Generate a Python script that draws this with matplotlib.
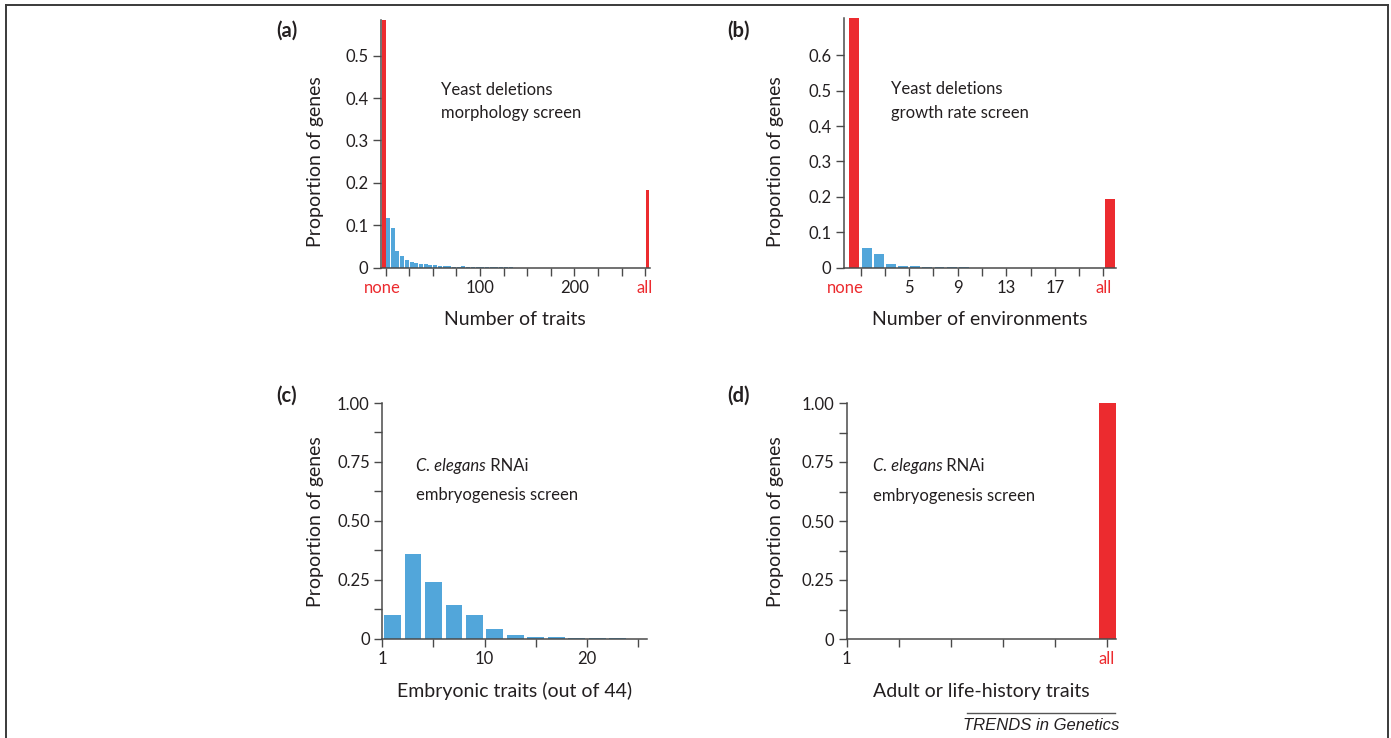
import matplotlib
matplotlib.use("Agg")
import matplotlib.pyplot as plt
from matplotlib.lines import Line2D

# ---------------- data ----------------
# (a) yeast deletions, morphology screen (bins of 5 traits)
a_none = 0.62
a_blue = [0.117, 0.094, 0.040, 0.028, 0.019, 0.013, 0.012, 0.0095, 0.0095,
          0.0063, 0.0063, 0.004, 0.004, 0.004, 0.0024, 0.0024, 0.0047, 0.0024,
          0.002, 0.002, 0.002, 0.0015, 0.0015, 0.0015, 0.0015, 0.0015, 0.001]
a_all = 0.183
a_ticks = [0, 25, 50, 75, 100, 125, 150, 175, 200, 225, 250, 275]
a_ticklabels = ["", "", "", "", "100", "", "", "", "200", "", "", "all"]

# (b) yeast deletions, growth rate screen (1..20 environments)
b_none = 0.75
b_blue = [0.0557, 0.039, 0.0104, 0.0047, 0.0047, 0.002, 0.002, 0.002, 0.002,
          0, 0, 0, 0, 0, 0, 0, 0, 0, 0, 0]
b_all = 0.194
b_ticks = [1, 3, 5, 7, 9, 11, 13, 15, 17, 19, 21]
b_ticklabels = ["", "", "5", "", "9", "", "13", "", "17", "", "all"]

# (c) C. elegans RNAi, embryonic traits (bins of 2)
c_vals = [0.099, 0.357, 0.239, 0.141, 0.099, 0.040, 0.014, 0.006, 0.006,
          0.002, 0.001, 0.001]
c_ticks = [0, 5, 10, 15, 20, 25]
c_ticklabels = ["1", "", "10", "", "20", ""]

# (d) adult / life-history traits
d_all = 1.0
d_ticks = [0, 1, 2, 3, 4, 5]
d_ticklabels = ["1", "", "", "", "", "all"]

yticks_a = [0, 0.1, 0.2, 0.3, 0.4, 0.5]
yticklabels_a = ["0", "0.1", "0.2", "0.3", "0.4", "0.5"]
yticks_b = [0, 0.1, 0.2, 0.3, 0.4, 0.5, 0.6]
yticklabels_b = ["0", "0.1", "0.2", "0.3", "0.4", "0.5", "0.6"]
yticks_cd = [0, 0.25, 0.5, 0.75, 1.0]
yticklabels_cd = ["0", "0.25", "0.50", "0.75", "1.00"]
yminor_cd = [0.125, 0.375, 0.625, 0.875]

# ---------------- style ----------------
BLUE = "#52a6da"
RED = "#ec2b2f"
TXT = "#231f20"
SPINE = "#4a4a4a"
plt.rcParams["font.family"] = ["Lato", "DejaVu Sans"]

W, H = 1391, 738
fig = plt.figure(figsize=(W / 100, H / 100), dpi=100)


def add_ax(left, top, right, bottom):
    return fig.add_axes([left / W, 1 - bottom / H, (right - left) / W, (bottom - top) / H])


def style(ax, ylab_x, ylab_y):
    for s in ["top", "right"]:
        ax.spines[s].set_visible(False)
    for s in ["left", "bottom"]:
        ax.spines[s].set_color(SPINE)
        ax.spines[s].set_linewidth(1.1)
    ax.tick_params(axis="both", which="both", direction="out", color=SPINE,
                   width=1.0, labelsize=12, labelcolor=TXT, length=5.5)
    fig.text(ylab_x / W, 1 - ylab_y / H, "Proportion of genes", fontsize=14,
             color=TXT, rotation=90, ha="center", va="center")


def none_label(ax, x):
    ax.set_xticks([x], minor=True)
    ax.set_xticklabels(["none"], minor=True)
    ax.tick_params(axis="x", which="minor", length=0, pad=3.5 + 5.5, labelcolor=RED)


# ----- (a) -----
axa = add_ax(380.7, 20, 650, 267.7)
style(axa, 316, 162)
xa = [5 * i + 2.4 for i in range(len(a_blue))]
axa.bar(xa, a_blue, width=4.2, color=BLUE, linewidth=0)
axa.bar([-2.3], [a_none], width=4.2, color=RED, linewidth=0)
axa.bar([277.8], [a_all], width=3.6, color=RED, linewidth=0)
axa.set_xlim(-5.3, 280.2)
axa.set_ylim(0, 0.584)
axa.set_yticks(yticks_a)
axa.set_yticklabels(yticklabels_a)
axa.set_xticks(a_ticks)
axa.set_xticklabels(a_ticklabels)
axa.get_xticklabels()[-1].set_color(RED)
none_label(axa, -3.3)
axa.set_xlabel("Number of traits", fontsize=14, color=TXT, labelpad=11)
axa.text(59, 0.392, "Yeast deletions\nmorphology screen", fontsize=12, color=TXT,
         va="center", ha="left", linespacing=1.6)

# ----- (b) -----
axb = add_ax(844, 18, 1115.5, 267.7)
style(axb, 776, 162)
xb = [k + 0.5 for k in range(1, len(b_blue) + 1)]
axb.bar(xb, b_blue, width=0.82, color=BLUE, linewidth=0)
axb.bar([0.45], [b_none], width=0.8, color=RED, linewidth=0)
axb.bar([21.55], [b_all], width=0.82, color=RED, linewidth=0)
axb.set_xlim(-0.37, 22.0)
axb.set_ylim(0, 0.705)
axb.set_yticks(yticks_b)
axb.set_yticklabels(yticklabels_b)
axb.set_xticks(b_ticks)
axb.set_xticklabels(b_ticklabels)
axb.get_xticklabels()[-1].set_color(RED)
none_label(axb, -0.25)
axb.set_xlabel("Number of environments", fontsize=14, color=TXT, labelpad=11)
axb.text(3.5, 0.471, "Yeast deletions\ngrowth rate screen", fontsize=12, color=TXT,
         va="center", ha="left", linespacing=1.6)

# ----- (c) -----
axc = add_ax(382.3, 403, 647.5, 638.5)
style(axc, 316, 522)
xc = [2 * i + 1 for i in range(len(c_vals))]
axc.bar(xc, c_vals, width=1.65, color=BLUE, linewidth=0)
axc.set_xlim(0, 25.9)
axc.set_ylim(0, 1.0)
axc.set_yticks(yticks_cd)
axc.set_yticklabels(yticklabels_cd)
axc.set_yticks(yminor_cd, minor=True)
axc.set_xticks(c_ticks)
axc.set_xticklabels(c_ticklabels)
axc.set_xlabel("Embryonic traits (out of 44)", fontsize=14, color=TXT, labelpad=11)
tc = axc.text(3.3, 0.711, "C. elegans", fontsize=12, color=TXT, style="italic",
              va="baseline", ha="left")
axc.annotate(" RNAi", xy=(1, 0), xycoords=tc, fontsize=12, color=TXT, va="bottom", ha="left")
axc.text(3.3, 0.586, "embryogenesis screen", fontsize=12, color=TXT, va="baseline", ha="left")

# ----- (d) -----
axd = add_ax(846.7, 403, 1116, 639)
style(axd, 776, 522)
axd.bar([5.02], [d_all], width=0.32, color=RED, linewidth=0)
axd.set_xlim(0, 5.18)
axd.set_ylim(0, 1.0)
axd.set_yticks(yticks_cd)
axd.set_yticklabels(yticklabels_cd)
axd.set_yticks(yminor_cd, minor=True)
axd.set_xticks(d_ticks)
axd.set_xticklabels(d_ticklabels)
axd.get_xticklabels()[-1].set_color(RED)
axd.set_xlabel("Adult or life-history traits", fontsize=14, color=TXT, labelpad=11)
td = axd.text(0.5, 0.711, "C. elegans", fontsize=12, color=TXT, style="italic",
              va="baseline", ha="left")
axd.annotate(" RNAi", xy=(1, 0), xycoords=td, fontsize=12, color=TXT, va="bottom", ha="left")
axd.text(0.5, 0.586, "embryogenesis screen", fontsize=12, color=TXT, va="baseline", ha="left")

# panel letters
for lab, x, y in [("(a)", 276, 31), ("(b)", 727, 31), ("(c)", 276, 396), ("(d)", 727, 396)]:
    fig.text(x / W, 1 - y / H, lab, fontsize=14.5, fontweight="bold", color=TXT,
             ha="left", va="center")

# frame
fc = "#3a3a3a"
fig.add_artist(Line2D([6.5 / W, 6.5 / W], [0, 1 - 5 / H], color=fc, lw=1.4))
fig.add_artist(Line2D([6.5 / W, 1387.8 / W], [1 - 5 / H, 1 - 5 / H], color=fc, lw=1.4))
fig.add_artist(Line2D([1387.8 / W, 1387.8 / W], [0, 1 - 5 / H], color=fc, lw=1.4))

# footer
fig.add_artist(Line2D([967 / W, 1115 / W], [1 - 713 / H, 1 - 713 / H], color="#555555", lw=1.0))
fig.text(1041 / W, 1 - 725 / H, "TRENDS in Genetics", fontsize=12, style="italic",
         family="Liberation Sans", color=TXT, ha="center", va="center")

fig.savefig("out.png", dpi=100)
